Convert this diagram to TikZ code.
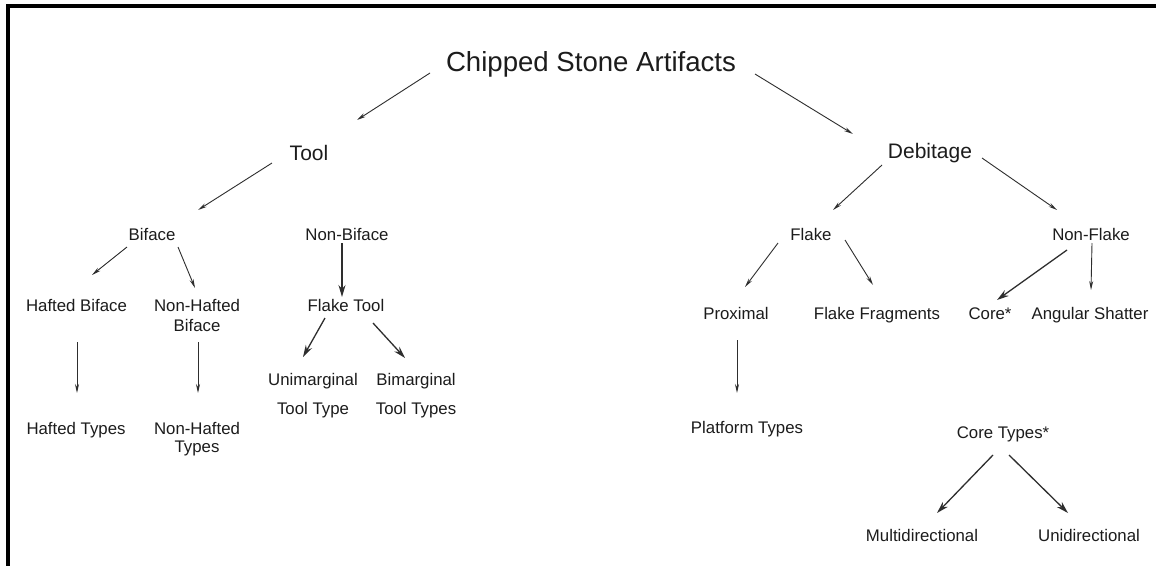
\documentclass[tikz,border=0pt]{standalone}
\usepackage{fontspec}
\setmainfont{Liberation Sans}
\usetikzlibrary{arrows.meta}
\definecolor{ink}{HTML}{1C1C1C}
\definecolor{lineink}{HTML}{2E2E2E}
\tikzset{
  lbl/.style={anchor=base, inner sep=0pt, text=ink, font=\fontsize{16.8}{20}\selectfont},
  lvlone/.style={lbl, font=\fontsize{27.6}{32}\selectfont},
  lvltwo/.style={lbl, font=\fontsize{21}{25}\selectfont},
  thinarr/.style={draw=lineink, line width=0.9pt, -{Stealth[length=9pt,width=4pt]}},
  thickarr/.style={draw=lineink, line width=1.3pt, -{Stealth[length=12pt,width=7pt]}},
}
\newcommand{\twoline}[3][0pt]{\begin{tabular}[t]{@{}c@{}}#2\\[#1]#3\end{tabular}}
\begin{document}
\begin{tikzpicture}[x=1pt,y=-1pt]
\useasboundingbox (0,0) rectangle (1156,566);
\fill[white] (0,0) rectangle (1156,566);
% frame
\fill[black] (6,4.3) rectangle (1156,8);
\fill[black] (6,4.3) rectangle (10,566);

% nodes
\node[lvlone] (root) at (591,71) {Chipped Stone Artifacts};
\node[lvltwo] (tool) at (309,160) {Tool};
\node[lvltwo] (deb) at (930,158) {Debitage};
\node[lbl] (biface) at (152,240) {Biface};
\node[lbl] (nonbiface) at (347,240) {Non-Biface};
\node[lbl] (hafted) at (76.5,311) {Hafted Biface};
\node[lbl] (nonhafted) at (197,311) {\twoline{Non-Hafted}{Biface}};
\node[lbl] (flaketool) at (346,311) {Flake Tool};
\node[lbl] (haftedtypes) at (76,434) {Hafted Types};
\node[lbl] (nonhaftedtypes) at (197,434) {\twoline[-2pt]{Non-Hafted}{Types}};
\node[lbl] (uni) at (313,385) {\twoline[9pt]{Unimarginal}{Tool Type}};
\node[lbl] (bi) at (416,385) {\twoline[9pt]{Bimarginal}{Tool Types}};
\node[lbl] (flake) at (811,240) {Flake};
\node[lbl] (nonflake) at (1091,240) {Non-Flake};
\node[lbl] (proximal) at (736,319) {Proximal};
\node[lbl] (fragments) at (877,319) {Flake Fragments};
\node[lbl] (core) at (990,319) {Core*};
\node[lbl] (shatter) at (1090,319) {Angular Shatter};
\node[lbl] (platform) at (747,433) {Platform Types};
\node[lbl] (coretypes) at (1003,438) {Core Types*};
\node[lbl] (multi) at (922,541) {Multidirectional};
\node[lbl] (unidir) at (1089,541) {Unidirectional};

% connectors
\draw[thinarr] ([shift={(-161,2)}]root.base) -- ([shift={(48,-40)}]tool.base);
\draw[thinarr] ([shift={(164,3)}]root.base) -- ([shift={(-77,-24)}]deb.base);
\draw[thinarr] ([shift={(-37,3)}]tool.base) -- ([shift={(46,-30)}]biface.base);
\draw[thinarr] ([shift={(-48,7)}]deb.base) -- ([shift={(22,-30)}]flake.base);
\draw[thinarr] ([shift={(52,0)}]deb.base) -- ([shift={(-34,-30)}]nonflake.base);
\draw[thinarr] ([shift={(-25,7)}]biface.base) -- ([shift={(15.5,-36)}]hafted.base);
\draw[thinarr] ([shift={(26,7)}]biface.base) -- ([shift={(-2,-23)}]nonhafted.base);
\draw[thickarr] ([shift={(-5,3)}]nonbiface.base) -- ([shift={(-4,-14)}]flaketool.base);
\draw[thickarr] ([shift={(-21,7)}]flaketool.base) -- ([shift={(-10,-28)}]uni.base);
\draw[thickarr] ([shift={(27,12)}]flaketool.base) -- ([shift={(-11,-27)}]bi.base);
\draw[thinarr] ([shift={(0.5,31)}]hafted.base) -- ([shift={(1,-41)}]haftedtypes.base);
\draw[thinarr] ([shift={(1,31)}]nonhafted.base) -- ([shift={(1,-41)}]nonhaftedtypes.base);
\draw[thinarr] ([shift={(-33,3)}]flake.base) -- ([shift={(9,-32)}]proximal.base);
\draw[thinarr] ([shift={(34,0)}]flake.base) -- ([shift={(-4,-34)}]fragments.base);
\draw[thickarr] ([shift={(-24,10)}]nonflake.base) -- ([shift={(7,-19)}]core.base);
\draw[thinarr] ([shift={(1,3)}]nonflake.base) -- ([shift={(1,-29)}]shatter.base);
\draw[thinarr] ([shift={(1,21)}]proximal.base) -- ([shift={(-10,-40)}]platform.base);
\draw[thickarr] ([shift={(-10,17)}]coretypes.base) -- ([shift={(15,-28)}]multi.base);
\draw[thickarr] ([shift={(6,17)}]coretypes.base) -- ([shift={(-21,-28)}]unidir.base);
\end{tikzpicture}
\end{document}
